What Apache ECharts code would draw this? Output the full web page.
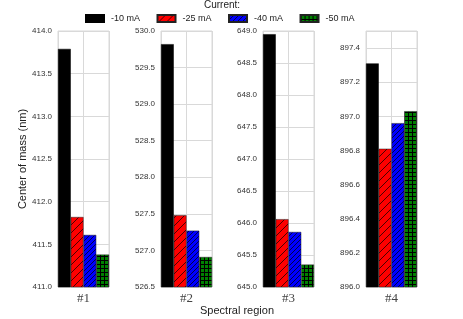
<!DOCTYPE html>
<html><head><meta charset="utf-8">
<script src="https://cdn.jsdelivr.net/npm/echarts@6/dist/echarts.min.js"></script>
<style>html,body{margin:0;padding:0;background:#fff}#c{width:463px;height:319px}</style>
</head><body><div id="c"></div>
<script>
// ---- data ----
var regions = ['#1', '#2', '#3', '#4'];
var currents = ['-10 mA', '-25 mA', '-40 mA', '-50 mA'];
var cur10 = [413.79, 529.82, 648.95, 897.31];
var cur25 = [411.82, 527.48, 646.06, 896.81];
var cur40 = [411.61, 527.27, 645.86, 896.96];
var cur50 = [411.38, 526.91, 645.35, 897.03];
var yMins = [411.0, 526.5, 645.0, 896.0];
var yMaxs = [414.0, 530.0, 649.0, 897.5];
var yIntervals = [0.5, 0.5, 0.5, 0.2];

var values = [cur10, cur25, cur40, cur50];

function makePattern(bg, kind, s) {
  var c = document.createElement('canvas');
  c.width = s; c.height = s;
  var g = c.getContext('2d');
  g.fillStyle = bg; g.fillRect(0, 0, s, s);
  g.strokeStyle = '#000';
  if (kind === 'diag') {
    g.lineWidth = 0.7;
    g.beginPath();
    g.moveTo(0, s); g.lineTo(s, 0);
    g.moveTo(-1, 1); g.lineTo(1, -1);
    g.moveTo(s - 1, s + 1); g.lineTo(s + 1, s - 1);
    g.stroke();
  } else if (kind === 'grid') {
    g.lineWidth = 1;
    g.beginPath();
    g.moveTo(0.5, 0); g.lineTo(0.5, s);
    g.moveTo(0, 0.5); g.lineTo(s, 0.5);
    g.stroke();
  }
  return { image: c, repeat: 'repeat' };
}
var fills = [
  '#000000',
  makePattern('#ff0000', 'diag', 8),
  makePattern('#0000ff', 'diag', 5),
  makePattern('#008000', 'grid', 4)
];

var gridLefts = [58, 161, 263, 366];
var gridW = 51;
var grids = [], xAxes = [], yAxes = [], series = [];
for (var i = 0; i < 4; i++) {
  grids.push({ left: gridLefts[i], width: gridW, top: 31, height: 256, show: true, borderColor: '#d9d9d9', borderWidth: 1 });
  xAxes.push({
    type: 'category', gridIndex: i, data: [regions[i]],
    axisLine: { show: false }, axisTick: { show: false },
    axisLabel: { margin: 5, fontFamily: 'Liberation Serif', fontSize: 13, color: '#444' },
    splitLine: { show: false }
  });
  xAxes.push({
    type: 'value', gridIndex: i, min: 0, max: 2, interval: 1, position: 'top',
    axisLine: { show: false }, axisTick: { show: false }, axisLabel: { show: false },
    splitLine: { show: true, lineStyle: { color: '#d9d9d9', width: 1 } }
  });
  yAxes.push({
    type: 'value', gridIndex: i, min: yMins[i], max: yMaxs[i], interval: yIntervals[i],
    axisLine: { show: false }, axisTick: { show: false },
    axisLabel: {
      showMaxLabel: i !== 3, margin: 6, fontFamily: 'Liberation Sans', fontSize: 8, color: '#333',
      formatter: function (v) { return v.toFixed(1); }
    },
    splitLine: { show: true, lineStyle: { color: '#d9d9d9', width: 1 } },
    name: i === 0 ? 'Center of mass (nm)' : '',
    nameLocation: 'middle', nameGap: 30,
    nameTextStyle: { fontFamily: 'Liberation Sans', fontSize: 11, color: '#222' }
  });
  for (var j = 0; j < 4; j++) {
    series.push({
      type: 'bar', name: currents[j], xAxisIndex: i * 2, yAxisIndex: i,
      data: [values[j][i]], barGap: '0%', barCategoryGap: '0%',
      itemStyle: { color: fills[j], borderColor: j === 0 ? '#000' : '#222', borderWidth: 0.5 },
      silent: true, animation: false
    });
  }
}

var chart = echarts.init(document.getElementById('c'));
chart.setOption({
  animation: false,
  title: [
    { text: 'Current:', left: 222, top: 0, padding: 0, textAlign: 'center', textStyle: { fontFamily: 'Liberation Sans', fontSize: 10, fontWeight: 'normal', color: '#222' } },
    { text: 'Spectral region', left: 237, top: 305, padding: 0, textAlign: 'center', textStyle: { fontFamily: 'Liberation Sans', fontSize: 11, fontWeight: 'normal', color: '#222' } }
  ],
  legend: {
    data: currents.map(function (n, k) { return { name: n, itemStyle: { color: fills[k] } }; }),
    left: 85, top: 14, padding: 0, itemWidth: 18, itemHeight: 7, itemGap: 16.5,
    icon: 'rect', selectedMode: false,
    textStyle: { fontFamily: 'Liberation Sans', fontSize: 9, color: '#222', padding: [0, 0, 0, 2] }
  },
  grid: grids, xAxis: xAxes, yAxis: yAxes, series: series
});
</script></body></html>
